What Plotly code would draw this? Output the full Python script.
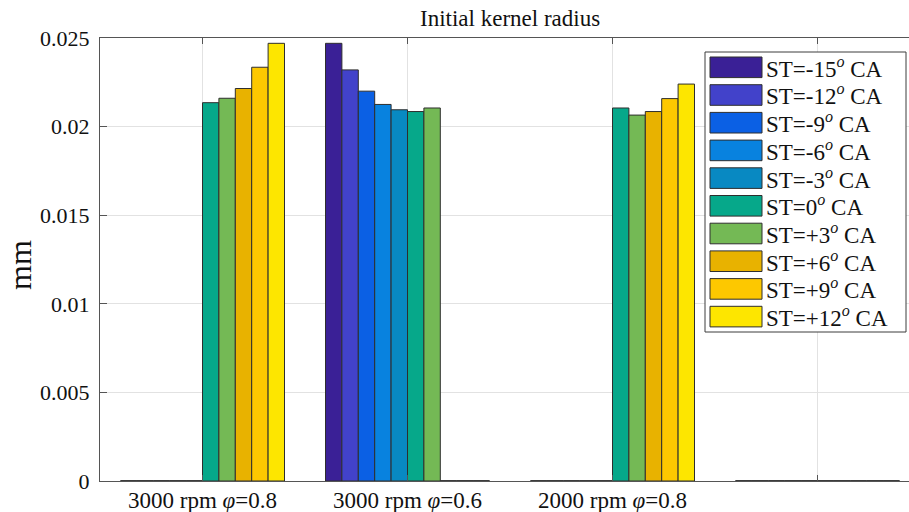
import plotly.graph_objects as go

# Operating points (groups) and spark-timing series
groups = ["3000 rpm <i>φ</i>=0.8", "3000 rpm <i>φ</i>=0.6", "2000 rpm <i>φ</i>=0.8", ""]
group_pos = [1, 2, 3, 4]
series_names = ["-15", "-12", "-9", "-6", "-3", "0", "+3", "+6", "+9", "+12"]

# Initial kernel radius [mm] for each spark timing, one value per group
r_m15 = [0, 0.0247, 0, 0]
r_m12 = [0, 0.0232, 0, 0]
r_m9 = [0, 0.0220, 0, 0]
r_m6 = [0, 0.02125, 0, 0]
r_m3 = [0, 0.02095, 0, 0]
r_0 = [0.02135, 0.02085, 0.02105, 0]
r_p3 = [0.0216, 0.02105, 0.02065, 0]
r_p6 = [0.02215, 0, 0.02085, 0]
r_p9 = [0.02335, 0, 0.02158, 0]
r_p12 = [0.0247, 0, 0.0224, 0]
series_values = [r_m15, r_m12, r_m9, r_m6, r_m3, r_0, r_p3, r_p6, r_p9, r_p12]

y_ticks = [0, 0.005, 0.01, 0.015, 0.02, 0.025]
y_ticktext = ["0", "0.005", "0.01", "0.015", "0.02", "0.025"]

colors = ["#3A2096", "#4242CA", "#0B60E4", "#0882DF", "#0889C2",
          "#06A88A", "#74B955", "#E8B200", "#FDC800", "#FDE600"]

FONT = "Liberation Serif"
EDGE = "#2e2e2e"
W, H = 909, 512
ML, MR, MT, MB = 100, 0, 38, 31

fig = go.Figure()
n = len(series_names)
group_width = 0.8
bar_w = group_width / n

for name, vals, col in zip(series_names, series_values, colors):
    fig.add_trace(go.Bar(
        x=group_pos, y=vals, name=f"ST={name}",
        marker=dict(color=col, line=dict(color=EDGE, width=1)),
        showlegend=False,
    ))

# zero-height bars are drawn as flat edges on the baseline
zx, zy = [], []
for i, vals in enumerate(series_values):
    off = (i - (n - 1) / 2) * bar_w
    for g, v in zip(group_pos, vals):
        if v == 0:
            zx += [g + off - bar_w / 2, g + off + bar_w / 2, None]
            zy += [0, 0, None]
fig.add_trace(go.Scatter(x=zx, y=zy, mode="lines", line=dict(color="#333", width=1.6),
                         hoverinfo="skip", showlegend=False, cliponaxis=False))

plot_w = W - ML - MR
plot_h = H - MT - MB


def px(x):
    return (x - ML) / plot_w


def py(y):
    return (H - MB - y) / plot_h


# legend box drawn as shapes + annotations
shapes = [dict(type="rect", xref="paper", yref="paper",
               x0=px(705), x1=px(906), y0=py(332), y1=py(52),
               fillcolor="white", line=dict(color="#3c3c3c", width=1), layer="above")]
annotations = []
row0, step = 67.3, 27.7
for i, (name, col) in enumerate(zip(series_names, colors)):
    cy = row0 + i * step
    shapes.append(dict(type="rect", xref="paper", yref="paper",
                       x0=px(710), x1=px(762), y0=py(cy + 10.3), y1=py(cy - 10.3),
                       fillcolor=col, line=dict(color=EDGE, width=1), layer="above"))
    annotations.append(dict(xref="paper", yref="paper", x=px(764), y=py(cy),
                            xanchor="left", yanchor="middle", showarrow=False,
                            text=f"ST={name}<sup><i>o</i></sup> CA",
                            font=dict(family=FONT, size=23, color="#111")))

# title and y label
annotations.append(dict(xref="paper", yref="paper", x=px(510), y=py(18),
                        xanchor="center", yanchor="middle", showarrow=False,
                        text="Initial kernel radius",
                        font=dict(family=FONT, size=23, color="#111")))
annotations.append(dict(xref="paper", yref="paper", x=px(20), y=py(265),
                        xanchor="center", yanchor="middle", showarrow=False,
                        text="mm", textangle=-90,
                        font=dict(family=FONT, size=32, color="#111")))

fig.update_layout(
    width=W, height=H,
    margin=dict(l=ML, r=MR, t=MT, b=MB, autoexpand=False),
    paper_bgcolor="white", plot_bgcolor="white",
    barmode="group", bargap=1 - group_width, bargroupgap=0,
    shapes=shapes, annotations=annotations,
    font=dict(family=FONT, size=22, color="#111"),
    xaxis=dict(range=[0.5, 0.5 + plot_w / 205.0], tickvals=group_pos, ticktext=groups,
               showgrid=True, gridcolor="#e2e2e2", gridwidth=1,
               showline=True, linecolor="#555", linewidth=1.3, mirror="ticks",
               ticks="inside", ticklen=6, tickcolor="#555", zeroline=False,
               ticklabelstandoff=-2,
               tickfont=dict(family=FONT, size=23, color="#111")),
    yaxis=dict(range=[0, 0.025], tickvals=y_ticks, ticktext=y_ticktext,
               showgrid=True, gridcolor="#e2e2e2", gridwidth=1,
               showline=True, linecolor="#555", linewidth=1.3,
               ticks="inside", ticklen=7, tickcolor="#555", zeroline=False,
               ticklabelstandoff=5,
               tickfont=dict(family=FONT, size=22, color="#111")),
)

fig.write_html("out.html")
